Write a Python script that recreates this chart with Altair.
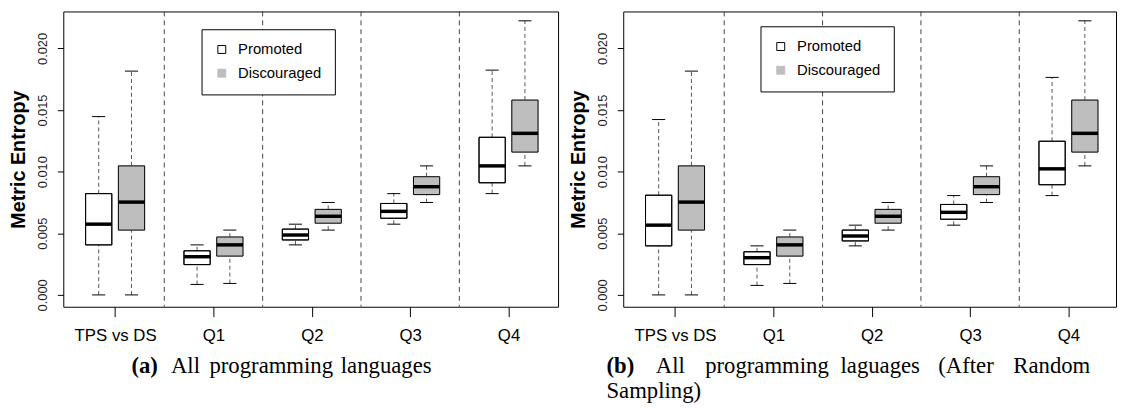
import altair as alt
import pandas as pd

# ---------------- data ----------------
groups = ["TPS vs DS", "Q1", "Q2", "Q3", "Q4"]
types = ["Promoted", "Discouraged"]

# panel (a): five-number summaries (lower whisker, Q1, median, Q3, upper whisker)
a_prom_lo = [0.0, 0.00085, 0.00406, 0.00574, 0.00822]
a_prom_q1 = [0.00406, 0.00246, 0.00446, 0.00622, 0.00910]
a_prom_med = [0.00574, 0.00310, 0.00486, 0.00678, 0.01047]
a_prom_q3 = [0.00822, 0.00358, 0.00534, 0.00742, 0.01279]
a_prom_hi = [0.01447, 0.00406, 0.00574, 0.00822, 0.01824]

a_disc_lo = [0.0, 0.00093, 0.00526, 0.00750, 0.01047]
a_disc_q1 = [0.00526, 0.00315, 0.00582, 0.00814, 0.01159]
a_disc_med = [0.00753, 0.00406, 0.00638, 0.00878, 0.01311]
a_disc_q3 = [0.01047, 0.00470, 0.00694, 0.00959, 0.01581]
a_disc_hi = [0.01816, 0.00526, 0.00750, 0.01047, 0.02224]

# panel (b)
b_prom_lo = [0.0, 0.00077, 0.00398, 0.00566, 0.00806]
b_prom_q1 = [0.00398, 0.00246, 0.00438, 0.00614, 0.00894]
b_prom_med = [0.00566, 0.00302, 0.00478, 0.00670, 0.01023]
b_prom_q3 = [0.00809, 0.00350, 0.00526, 0.00734, 0.01247]
b_prom_hi = [0.01423, 0.00398, 0.00566, 0.00806, 0.01765]

b_disc_lo = [0.0, 0.00093, 0.00526, 0.00750, 0.01047]
b_disc_q1 = [0.00526, 0.00315, 0.00582, 0.00814, 0.01159]
b_disc_med = [0.00753, 0.00406, 0.00638, 0.00878, 0.01311]
b_disc_q3 = [0.01047, 0.00470, 0.00694, 0.00959, 0.01581]
b_disc_hi = [0.01816, 0.00526, 0.00750, 0.01047, 0.02224]

y_ticks = [0.000, 0.005, 0.010, 0.015, 0.020]
separators = [3, 6, 9, 12]

caption_a_label = "(a)"
caption_a_words = ["All", "programming", "languages"]
caption_b_label = "(b)"
caption_b_words = ["All", "programming", "laguages", "(After", "Random"]
caption_b_line2 = "Sampling)"

# ---------------- layout ----------------
H = 299
W_A = 501
W_B = 499
PX_PER_UNIT = 33.2
X0 = -0.08
Y_DOMAIN = [-0.00096, 0.02300]
a_word_x = [109, 148, 281]
b_word_x = [33, 83, 220, 319, 395]
CAP_SIZE = 23


def build_df(prom, disc):
    rows = []
    for i, g in enumerate(groups):
        for j, (t, stats) in enumerate([("Promoted", prom), ("Discouraged", disc)]):
            lo, q1, med, q3, hi = (s[i] for s in stats)
            pos = 3 * i + 1 + j
            rows.append(dict(group=g, type=t, pos=pos,
                             left=pos - 0.4, right=pos + 0.4,
                             capl=pos - 0.2, capr=pos + 0.2,
                             lo=lo, q1=q1, med=med, q3=q3, hi=hi))
    return pd.DataFrame(rows)


label_array = "[" + ",".join("'" + g + "'" for g in groups) + "]"


def panel(df, width, legend_x, legend_y, captions):
    xscale = alt.Scale(domain=[X0, X0 + width / PX_PER_UNIT], nice=False, zero=False)
    yscale = alt.Scale(domain=Y_DOMAIN, nice=False, zero=False)
    xaxis = alt.Axis(values=[3 * i + 1.5 for i in range(len(groups))],
                     labelExpr=label_array + "[floor(datum.value/3)]",
                     title=None, grid=False, domain=False, tickSize=10,
                     tickColor="black", labelFont="Liberation Sans",
                     labelFontSize=17, labelColor="black", labelPadding=11)
    yaxis = alt.Axis(values=y_ticks, format=".3f", labelAngle=270,
                     labelAlign="center", labelBaseline="bottom",
                     title="Metric Entropy", titleFontSize=20, titleFontWeight="bold",
                     titleFont="Liberation Sans", titleColor="black", titlePadding=8,
                     grid=False, domain=False, tickSize=6, tickColor="black",
                     labelFontSize=13, labelColor="#222", labelFont="Liberation Sans",
                     labelPadding=8)

    def X(f):
        return alt.X(f + ":Q", scale=xscale, axis=xaxis)

    def Y(f):
        return alt.Y(f + ":Q", scale=yscale, axis=yaxis)

    base = alt.Chart(df)
    seps = alt.Chart(pd.DataFrame({"s": separators})).mark_rule(
        color="#444", strokeDash=[5, 4], strokeWidth=1).encode(x=X("s"))
    wl = base.mark_rule(color="#555", strokeDash=[4, 3], strokeWidth=1).encode(
        x=X("pos"), y=Y("lo"), y2="q1")
    wh = base.mark_rule(color="#555", strokeDash=[4, 3], strokeWidth=1).encode(
        x=X("pos"), y=Y("q3"), y2="hi")
    capl = base.mark_rule(color="black", strokeWidth=1).encode(
        x=X("capl"), x2="capr", y=Y("lo"))
    caph = base.mark_rule(color="black", strokeWidth=1).encode(
        x=X("capl"), x2="capr", y=Y("hi"))
    legend = alt.Legend(title=None, orient="none", legendX=legend_x, legendY=legend_y,
                        strokeColor="black", fillColor="white", padding=13,
                        symbolType="square", symbolSize=64, symbolStrokeWidth=1,
                        labelFont="Liberation Sans", labelFontSize=15,
                        labelColor="black", rowPadding=8, labelOffset=9)
    boxes = base.mark_rect(strokeWidth=1).encode(
        x=X("left"), x2="right", y=Y("q1"), y2="q3",
        fill=alt.Fill("type:N", scale=alt.Scale(domain=types, range=["white", "#bebebe"]),
                      legend=legend),
        stroke=alt.Stroke("type:N", scale=alt.Scale(domain=types, range=["black", "#bebebe"]),
                          legend=legend))
    outline = base.mark_rect(fillOpacity=0, stroke="black", strokeWidth=1).encode(
        x=X("left"), x2="right", y=Y("q1"), y2="q3")
    med = base.mark_rule(color="black", strokeWidth=3.5).encode(
        x=X("left"), x2="right", y=Y("med"))

    texts = []
    for txt, x, y, bold in captions:
        texts.append(alt.Chart(pd.DataFrame({"t": [txt]})).mark_text(
            align="left", baseline="alphabetic", font="Liberation Serif", fontSize=CAP_SIZE,
            fontWeight="bold" if bold else "normal", color="black").encode(
            x=alt.value(x), y=alt.value(y), text="t:N"))

    return alt.layer(seps, wl, wh, capl, caph, boxes, outline, med, *texts).properties(
        width=width, height=H)


df_a = build_df([a_prom_lo, a_prom_q1, a_prom_med, a_prom_q3, a_prom_hi],
                 [a_disc_lo, a_disc_q1, a_disc_med, a_disc_q3, a_disc_hi])
df_b = build_df([b_prom_lo, b_prom_q1, b_prom_med, b_prom_q3, b_prom_hi],
                [b_disc_lo, b_disc_q1, b_disc_med, b_disc_q3, b_disc_hi])

cap_a = [(caption_a_label, 69, 366, True)]
cap_a += [(w, x, 366, False) for w, x in zip(caption_a_words, a_word_x)]
cap_b = [(caption_b_label, -17, 366, True)]
cap_b += [(w, x, 366, False) for w, x in zip(caption_b_words, b_word_x)]
cap_b += [(caption_b_line2, -17, 391, False)]

pa = panel(df_a, W_A, 140, 18, cap_a)
pb = panel(df_b, W_B, 139, 15, cap_b)

chart = alt.hconcat(pa, pb, spacing=9).resolve_legend(
    fill="independent", stroke="independent").properties(
    padding={"left": 0, "top": 0, "right": 0, "bottom": 0},
    background="white").configure_view(stroke="black", strokeWidth=1)

chart.save("out.html", embed_options={"renderer": "svg", "actions": False})
